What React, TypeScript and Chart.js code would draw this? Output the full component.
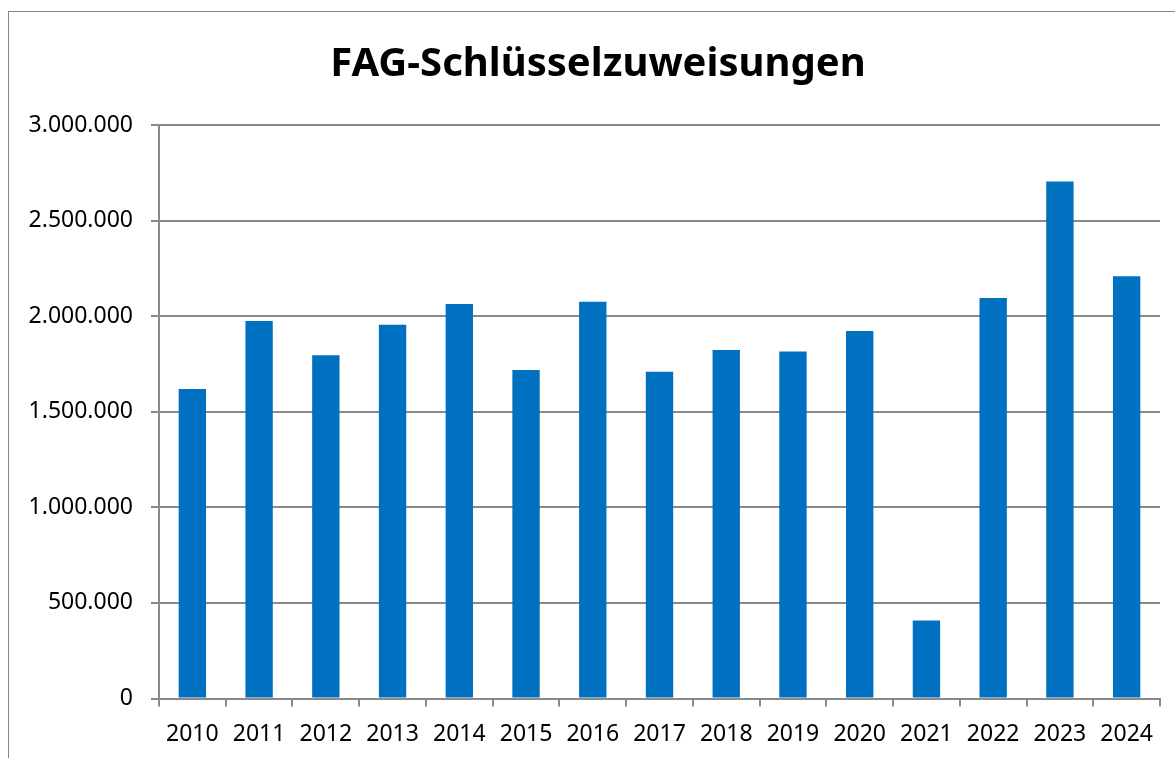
import React, { useEffect, useRef } from "react";
import { Chart, registerables } from "chart.js";

Chart.register(...registerables);

const TITLE = "FAG-Schlüsselzuweisungen";
const years = ["2010","2011","2012","2013","2014","2015","2016","2017","2018","2019","2020","2021","2022","2023","2024"];
const amounts = [1619000,1975000,1796000,1955000,2064000,1718000,2075000,1709000,1823000,1815000,1922000,408000,2095000,2705000,2209000];
const yMin = 0;
const yMax = 3000000;
const yStep = 500000;

const BAR = "#0070C0";
const GRID = "#8a8a8a";
const FONT = "'Noto Sans', 'Open Sans', sans-serif";

function fmt(v: number): string {
  return String(Math.round(v)).replace(/\B(?=(\d{3})+(?!\d))/g, ".");
}

// The chart frame extends past the right edge of the view; centre the title on the whole frame.
const titleCenterPlugin = {
  id: "titleCenter",
  afterLayout(chart: any) {
    if (chart.titleBlock) {
      chart.titleBlock.left = 0;
      chart.titleBlock.right = 1178;
    }
  },
};

export default function App() {
  const ref = useRef<HTMLCanvasElement | null>(null);
  useEffect(() => {
    if (!ref.current) return;
    const chart = new Chart(ref.current, {
      type: "bar",
      data: {
        labels: years,
        datasets: [
          {
            data: amounts,
            backgroundColor: BAR,
            borderWidth: 0,
            barPercentage: 0.41,
            categoryPercentage: 1,
          },
        ],
      },
      plugins: [titleCenterPlugin],
      options: {
        responsive: false,
        animation: false,
        devicePixelRatio: 1,
        layout: { padding: { left: 0, right: 26, top: 0, bottom: 0 } },
        plugins: {
          legend: { display: false },
          tooltip: { enabled: false },
          title: {
            display: true,
            text: TITLE,
            color: "#000",
            font: { family: FONT, size: 40, weight: "bold" },
            padding: { top: 29, bottom: 36 },
          },
        },
        scales: {
          x: {
            grid: {
              display: true,
              drawOnChartArea: false,
              drawTicks: true,
              tickLength: 8,
              offset: true,
              color: GRID,
              lineWidth: 2,
            },
            border: { display: true, color: GRID, width: 2 },
            ticks: {
              color: "#000",
              font: { family: FONT, size: 23 },
              padding: 14,
              maxRotation: 0,
              autoSkip: false,
            },
            afterFit: (s: any) => {
              s.height = 59.5;
            },
          },
          y: {
            min: yMin,
            max: yMax,
            grid: {
              color: GRID,
              lineWidth: 2,
              drawTicks: true,
              tickLength: 8,
            },
            border: { display: true, color: GRID, width: 2 },
            ticks: {
              stepSize: yStep,
              color: "#000",
              font: { family: FONT, size: 23 },
              padding: 18,
              callback: (v: any) => fmt(Number(v)),
            },
            afterFit: (s: any) => {
              s.width = 150;
            },
          },
        },
      },
    });
    return () => chart.destroy();
  }, []);

  return (
    <div style={{ position: "fixed", left: 0, top: 0, width: 1175, height: 758, overflow: "hidden", background: "#fff" }}>
      <div
        style={{
          position: "absolute",
          left: 8,
          top: 11,
          width: 1220,
          height: 800,
          border: "1px solid #878787",
          boxSizing: "border-box",
        }}
      />
      <canvas ref={ref} width={1177} height={746} style={{ position: "absolute", left: 9, top: 12 }} />
    </div>
  );
}
